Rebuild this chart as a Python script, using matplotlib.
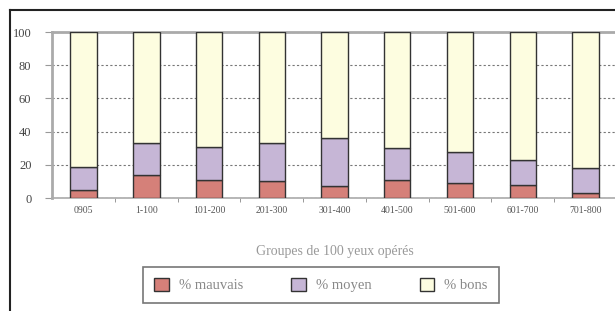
import matplotlib.pyplot as plt
from matplotlib.lines import Line2D
import numpy as np

groupes = ['0905', '1-100', '101-200', '201-300', '301-400',
           '401-500', '501-600', '601-700', '701-800']
mauvais = [5, 14, 11, 10, 7, 11, 9, 8, 3]
moyen = [14, 19, 20, 23, 29, 19, 19, 15, 15]
bons = [100 - a - b for a, b in zip(mauvais, moyen)]

fig = plt.figure(figsize=(6.15, 3.11), dpi=100)
ax = fig.add_axes([0.085, 0.363, 0.918, 0.534])

x = np.arange(len(groupes))
w = 0.42
ax.bar(x, mauvais, w, color='#d58079', edgecolor='#333333', lw=1, label='% mauvais', zorder=3)
ax.bar(x, moyen, w, bottom=mauvais, color='#c6b6d6', edgecolor='#333333', lw=1,
       label='% moyen', zorder=3)
ax.bar(x, bons, w, bottom=np.array(mauvais) + np.array(moyen), color='#fdfde0',
       edgecolor='#333333', lw=1, label='% bons', zorder=3)

ax.set_xlim(-0.5, 8.5)
ax.set_ylim(0, 100)
ax.set_yticks([0, 20, 40, 60, 80, 100])
ax.set_xticks(x)
ax.set_xticklabels(groupes, family='Liberation Serif', fontsize=7, color='#555555')
ax.set_xticks(x[:-1] + 0.5, minor=True)
ax.tick_params(axis='x', which='major', length=0, pad=6)
ax.tick_params(axis='x', which='minor', length=3, color='#888888')
ax.tick_params(axis='y', length=5, color='#999999', labelsize=9, labelcolor='#444444', pad=10)
for t in ax.get_yticklabels():
    t.set_family('Liberation Serif')
ax.yaxis.grid(True, ls=(0, (2, 2)), color='#777777', lw=0.8, zorder=0)
for s in ['left', 'top', 'bottom']:
    ax.spines[s].set_color('#aaaaaa')
ax.spines['left'].set_linewidth(2)
ax.spines['top'].set_linewidth(2)
ax.spines['bottom'].set_linewidth(1.2)
ax.spines['right'].set_visible(False)

ax.set_xlabel('Groupes de 100 yeux opérés', family='Liberation Serif', fontsize=10,
              color='#999999', labelpad=21)

leg = ax.legend(loc='upper left', ncol=3, borderaxespad=0,
                bbox_to_anchor=(143 / 615, 1 - 267 / 311),
                bbox_transform=fig.transFigure,
                frameon=True, fancybox=False, prop={'family': 'Liberation Serif', 'size': 10.5},
                handlelength=1.0, handleheight=1.0, handletextpad=0.7, borderpad=0.75,
                columnspacing=3.3, labelcolor='#888888')
leg.get_frame().set_edgecolor('#555555')
leg.get_frame().set_linewidth(1.2)

# outer frame
fig.add_artist(Line2D([10 / 615, 1], [1 - 10 / 311, 1 - 10 / 311], color='#222222', lw=1.5))
fig.add_artist(Line2D([10 / 615, 10 / 615], [0, 1 - 10 / 311], color='#222222', lw=1.5))

fig.savefig('out.png', dpi=100)
